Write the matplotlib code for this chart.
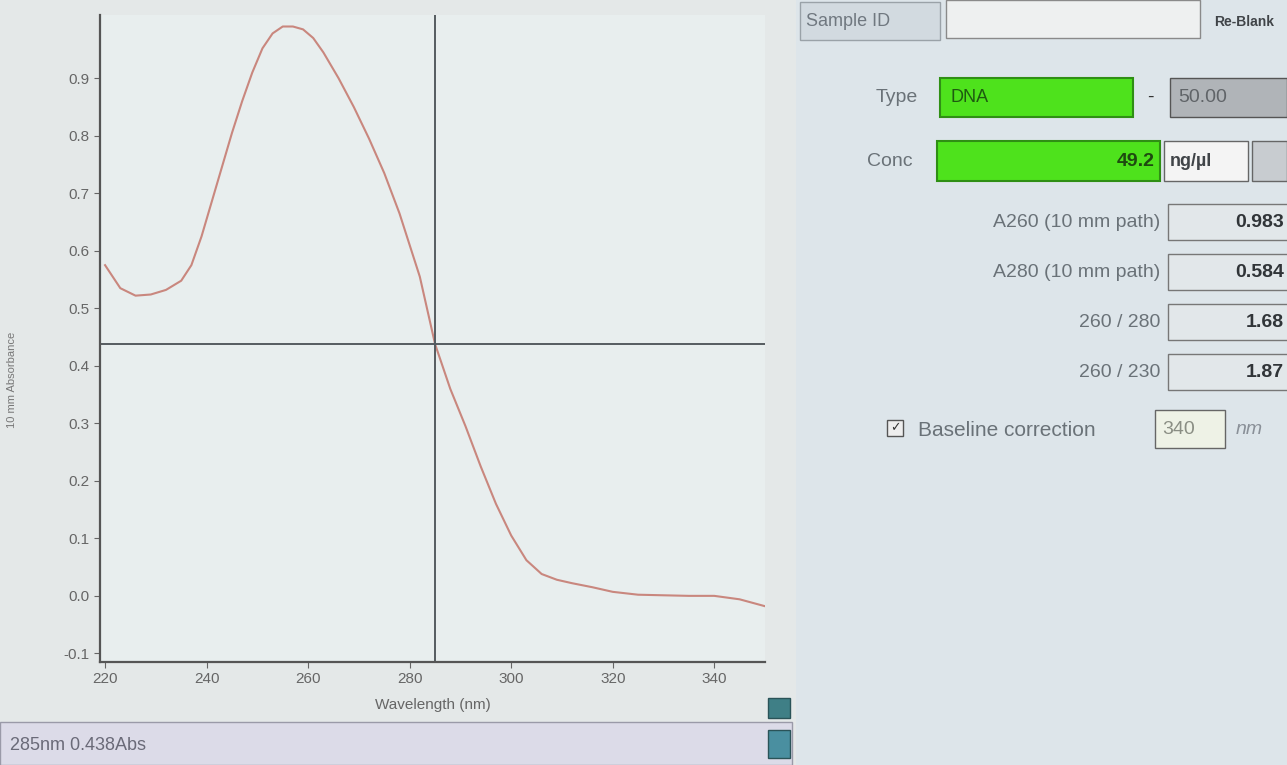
import matplotlib.pyplot as plt
from matplotlib.patches import Rectangle

plt.rcParams['font.family'] = ['Liberation Sans', 'DejaVu Sans']

# spectrum (nm, Abs)
wavelength = [220, 223, 226, 229, 232, 235, 237, 239, 241, 243, 245, 247, 249, 251, 253,
              255, 257, 259, 261, 263, 266, 269, 272, 275, 278, 280, 282, 285, 288, 291,
              294, 297, 300, 303, 306, 309, 312, 316, 320, 325, 330, 335, 340, 345, 350]
absorbance = [0.575, 0.535, 0.522, 0.524, 0.532, 0.548, 0.575, 0.625, 0.685, 0.745, 0.805,
              0.860, 0.910, 0.952, 0.978, 0.990, 0.990, 0.985, 0.970, 0.945, 0.900, 0.850,
              0.795, 0.735, 0.665, 0.610, 0.555, 0.438, 0.360, 0.295, 0.225, 0.160, 0.105,
              0.062, 0.038, 0.028, 0.022, 0.015, 0.007, 0.002, 0.001, 0.000, 0.000, -0.006, -0.018]
x_ticks = [220, 240, 260, 280, 300, 320, 340]
y_ticks = [-0.1, 0.0, 0.1, 0.2, 0.3, 0.4, 0.5, 0.6, 0.7, 0.8, 0.9]
cursor_nm = 285
cursor_abs = 0.438

# readout panel
sample_type = "DNA"
factor = "50.00"
conc = "49.2"
conc_unit = "ng/µl"
result_labels = ["A260 (10 mm path)", "A280 (10 mm path)", "260 / 280", "260 / 230"]
result_values = ["0.983", "0.584", "1.68", "1.87"]
baseline_nm = "340"

W, H = 1287, 765
fig = plt.figure(figsize=(W / 100, H / 100), dpi=100)
fig.patch.set_facecolor('#e4e8e8')


def fx(x):
    return x / W


def fy(y):
    return 1 - y / H


def box(x0, y0, x1, y1, fc, ec='#777777', lw=1.0):
    fig.patches.append(Rectangle((fx(x0), fy(y1)), fx(x1) - fx(x0), fy(y0) - fy(y1),
                                 transform=fig.transFigure, fc=fc, ec=ec, lw=lw, zorder=0))


# right panel background
box(796, 0, W, H, '#dde5ea', ec='none')
# status bar
box(0, 722, 792, H, '#dcdbe8', ec='#9a9aa8')
fig.text(fx(10), fy(745), f"{cursor_nm}nm {cursor_abs:.3f}Abs", fontsize=13,
         color='#6a6a78', va='center', ha='left')
# small buttons
box(768, 698, 790, 718, '#3f7f86', ec='#2a5358')
box(768, 730, 790, 758, '#4a8fa0', ec='#2a5358')

ax = fig.add_axes([fx(100), fy(662), fx(765) - fx(100), fy(15) - fy(662)])
ax.set_facecolor('#e8eeee')
ax.plot(wavelength, absorbance, color='#c9877e', lw=1.5)
ax.axvline(cursor_nm, color='#555b60', lw=1.4)
ax.axhline(cursor_abs, color='#555b60', lw=1.4)
ax.set_xlim(219, 350)
ax.set_ylim(-0.115, 1.01)
ax.set_xticks(x_ticks)
ax.set_yticks(y_ticks)
ax.set_yticklabels([f"{v:.1f}" for v in y_ticks])
for s in ['top', 'right']:
    ax.spines[s].set_visible(False)
for s in ['left', 'bottom']:
    ax.spines[s].set_color('#555555')
    ax.spines[s].set_linewidth(1.6)
ax.tick_params(colors='#666666', labelsize=11, length=4)
ax.set_xlabel("Wavelength (nm)", fontsize=11, color='#666666', labelpad=8)
fig.text(fx(12), fy(380), "10 mm Absorbance", rotation=90, fontsize=8,
         color='#777777', va='center', ha='center')

# Sample ID row
box(800, 2, 940, 40, '#d2dae0', ec='#9aa2a8')
fig.text(fx(806), fy(22), "Sample ID", fontsize=13, color='#707880', va='center')
box(946, 0, 1200, 38, '#eef0f0', ec='#8a8a8a')
fig.text(fx(1214), fy(22), "Re-Blank", fontsize=10, color='#404448', va='center',
         fontweight='bold')

# Type row
fig.text(fx(918), fy(97), "Type", fontsize=14, color='#6a7278', va='center', ha='right')
box(940, 78, 1133, 117, '#4ee21c', ec='#2f8f14', lw=1.5)
fig.text(fx(950), fy(97), sample_type, fontsize=13, color='#1e5a10', va='center')
fig.text(fx(1150), fy(97), "-", fontsize=14, color='#333333', va='center', ha='center')
box(1170, 78, W, 117, '#b0b4b8', ec='#555555')
fig.text(fx(1178), fy(97), factor, fontsize=14, color='#606468', va='center')

# Conc row
fig.text(fx(912), fy(162), "Conc", fontsize=14, color='#6a7278', va='center', ha='right')
box(937, 141, 1160, 181, '#4ee21c', ec='#2f8f14', lw=1.5)
fig.text(fx(1155), fy(162), conc, fontsize=14, color='#1e4a10', va='center', ha='right',
         fontweight='bold')
box(1164, 141, 1248, 181, '#f4f4f4', ec='#666666')
fig.text(fx(1170), fy(162), conc_unit, fontsize=13, color='#404448', va='center',
         fontweight='bold')
box(1252, 141, W, 181, '#c8ccd0', ec='#666666')

# results
for i, (lab, val) in enumerate(zip(result_labels, result_values)):
    yc = 222 + i * 50
    fig.text(fx(1160), fy(yc), lab, fontsize=14, color='#6a7278', va='center', ha='right')
    box(1168, yc - 18, W + 5, yc + 18, '#e2e7ea', ec='#777777')
    fig.text(fx(1284), fy(yc), val, fontsize=14, color='#303438', va='center', ha='right',
             fontweight='bold')

# baseline correction
box(887, 420, 903, 436, '#eeeeee', ec='#555555')
fig.text(fx(895), fy(428), "✓", fontsize=9, color='#333333', va='center', ha='center',
         family=['DejaVu Sans'])
fig.text(fx(918), fy(430), "Baseline correction", fontsize=15, color='#6a7278', va='center')
box(1155, 410, 1225, 448, '#eef2e6', ec='#666666')
fig.text(fx(1162), fy(430), baseline_nm, fontsize=14, color='#8a8e84', va='center')
fig.text(fx(1236), fy(430), "nm", fontsize=14, color='#8a9098', va='center', style='italic')

fig.savefig('out.png', dpi=100, facecolor=fig.get_facecolor())
